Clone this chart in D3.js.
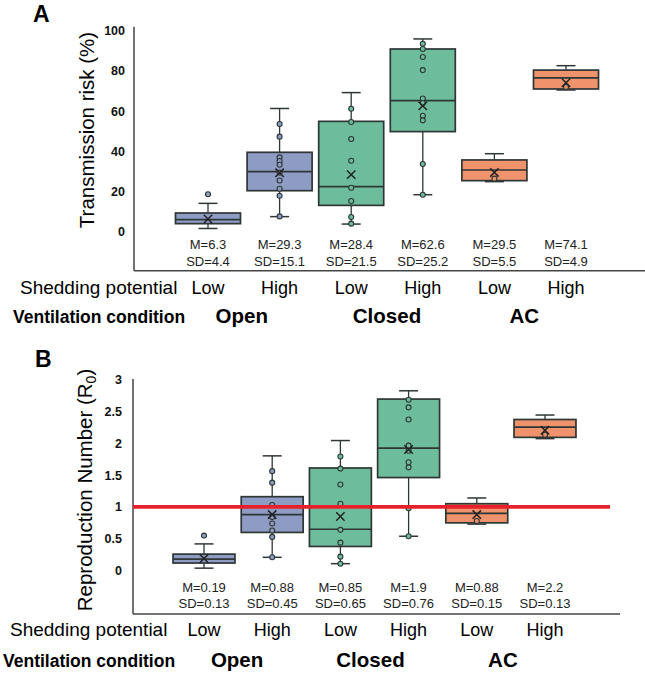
<!DOCTYPE html>
<meta charset="utf-8">
<body style="margin:0">
<script src="https://d3js.org/d3.v7.min.js"></script>
<script>

// Categories and labels.

var categories = ["Open Low", "Open High", "Closed Low", "Closed High", "AC Low", "AC High"];
var shedding = ["Low", "High", "Low", "High", "Low", "High"];
var ventilation = ["Open", "Closed", "AC"];
var groupOf = [0, 0, 1, 1, 2, 2];

// Panel A: transmission risk (%).

var riskTicks = [0, 20, 40, 60, 80, 100];
var riskWhiskerLow = [1.6, 7.5, 3.8, 18.4, 24.9, 70.5];
var riskQ1 = [4.0, 20.4, 13.1, 49.8, 25.4, 71.0];
var riskMedian = [6.0, 29.9, 22.4, 65.2, 30.7, 76.5];
var riskQ3 = [9.3, 39.5, 54.9, 90.9, 35.7, 80.4];
var riskWhiskerHigh = [14.1, 61.3, 69.2, 95.9, 38.8, 82.6];
var riskMean = [6.3, 29.3, 28.4, 62.6, 29.5, 74.1];
var riskSD = [4.4, 15.1, 21.5, 25.2, 5.5, 4.9];
var riskPoints = [
    [18.6],
    [53.6, 47.3, 37.0, 35.2, 33.3, 29.4, 25.5, 21.4, 17.9, 7.6],
    [61.2, 54.6, 46.1, 35.3, 21.9, 15.3, 7.3, 4.0],
    [93.5, 90.9, 86.9, 80.4, 66.3, 64.0, 57.7, 55.4, 33.7, 18.4],
    [26.4],
    [72.0]
];

// Panel B: reproduction number R0.

var r0Ticks = [0, 0.5, 1, 1.5, 2, 2.5, 3];
var r0WhiskerLow = [0.04, 0.21, 0.11, 0.54, 0.73, 2.07];
var r0Q1 = [0.12, 0.60, 0.38, 1.46, 0.75, 2.09];
var r0Median = [0.18, 0.88, 0.65, 1.92, 0.90, 2.25];
var r0Q3 = [0.26, 1.16, 1.61, 2.69, 1.05, 2.37];
var r0WhiskerHigh = [0.42, 1.80, 2.04, 2.82, 1.14, 2.44];
var r0Mean = [0.19, 0.88, 0.85, 1.9, 0.88, 2.2];
var r0SD = [0.13, 0.45, 0.65, 0.76, 0.15, 0.13];
var r0Points = [
    [0.55],
    [1.56, 1.38, 1.03, 0.84, 0.74, 0.63, 0.53, 0.21],
    [1.79, 1.60, 1.35, 1.05, 0.64, 0.44, 0.22, 0.11],
    [2.68, 2.56, 2.37, 1.96, 1.88, 1.70, 1.62, 0.98, 0.54],
    [0.78],
    [2.13]
];
var r0Threshold = 1;

var groupColor = ["#8e9bc3", "#6dbd9c", "#ef936c"];
var strokeColor = "#2e3636";

var width = 645,
    height = 674;

var svg = d3.select("body").append("svg")
    .attr("width", width)
    .attr("height", height)
    .style("background", "#fff")
    .style("font-family", "'Liberation Sans', Arial, sans-serif");

function drawPanel(p) {
    var g = svg.append("g");

    var y = d3.scaleLinear().domain(p.domain).range(p.yRange);
    var x = d3.scaleBand().domain(categories).range(p.xRange)
        .paddingInner(0.092).paddingOuter(0.046);
    var bw = x.bandwidth();
    var cx = function(i) { return x(categories[i]) + bw / 2; };

    // Panel letter
    g.append("text")
        .attr("x", p.letterX).attr("y", p.letterY)
        .attr("font-size", "23px").attr("font-weight", "bold")
        .text(p.letter);

    // Y axis labels (no tick marks, no domain path)
    var axis = g.append("g")
        .attr("transform", "translate(" + p.axisX + ",0)")
        .call(d3.axisLeft(y).tickValues(p.ticks).tickSize(0).tickPadding(p.tickPad)
            .tickFormat(d3.format("")));
    axis.select(".domain").remove();
    axis.selectAll("text")
        .attr("font-size", "12.5px").attr("font-weight", "bold")
        .attr("font-family", "'Liberation Sans', Arial, sans-serif")
        .attr("fill", "#111");

    // Frame: left axis and bottom line
    g.append("line")
        .attr("x1", p.axisX).attr("x2", p.axisX)
        .attr("y1", p.axisTop).attr("y2", p.axisBottom)
        .attr("stroke", "#444").attr("stroke-width", 1.5);
    g.append("line")
        .attr("x1", p.axisX).attr("x2", p.axisRight)
        .attr("y1", p.axisBottom).attr("y2", p.axisBottom)
        .attr("stroke", "#444").attr("stroke-width", 1.5);

    // Y title
    var title = g.append("text")
        .attr("transform", "translate(" + p.titleX + "," + p.titleY + ") rotate(-90)")
        .attr("text-anchor", "middle")
        .attr("font-size", "20.5px")
        .text(p.title);
    if (p.titleSub) {
        title.append("tspan").attr("font-size", "14px").attr("dy", 4).text(p.titleSub);
        title.append("tspan").attr("dy", -4).text(")");
    }

    var boxes = g.selectAll(".box").data(categories).enter().append("g");

    // Whiskers and caps
    boxes.append("line")
        .attr("x1", function(d, i) { return cx(i); })
        .attr("x2", function(d, i) { return cx(i); })
        .attr("y1", function(d, i) { return y(p.wLo[i]); })
        .attr("y2", function(d, i) { return y(p.wHi[i]); })
        .attr("stroke", strokeColor).attr("stroke-width", 1.3);
    [p.wLo, p.wHi].forEach(function(arr) {
        boxes.append("line")
            .attr("x1", function(d, i) { return cx(i) - 9.5; })
            .attr("x2", function(d, i) { return cx(i) + 9.5; })
            .attr("y1", function(d, i) { return y(arr[i]); })
            .attr("y2", function(d, i) { return y(arr[i]); })
            .attr("stroke", strokeColor).attr("stroke-width", 1.5);
    });

    // Boxes
    boxes.append("rect")
        .attr("x", function(d) { return x(d); })
        .attr("width", bw)
        .attr("y", function(d, i) { return y(p.q3[i]); })
        .attr("height", function(d, i) { return y(p.q1[i]) - y(p.q3[i]); })
        .attr("fill", function(d, i) { return groupColor[groupOf[i]]; })
        .attr("stroke", strokeColor).attr("stroke-width", 1.7);

    // Median
    boxes.append("line")
        .attr("x1", function(d) { return x(d); })
        .attr("x2", function(d) { return x(d) + bw; })
        .attr("y1", function(d, i) { return y(p.median[i]); })
        .attr("y2", function(d, i) { return y(p.median[i]); })
        .attr("stroke", strokeColor).attr("stroke-width", 1.7);

    // Individual points
    boxes.each(function(d, i) {
        d3.select(this).selectAll("circle").data(p.points[i]).enter().append("circle")
            .attr("cx", cx(i))
            .attr("cy", function(v) { return y(v); })
            .attr("r", 2.5)
            .attr("fill", groupColor[groupOf[i]])
            .attr("stroke", strokeColor).attr("stroke-width", 1.1);
    });

    // Mean marker (x)
    var m = 4.2;
    boxes.append("path")
        .attr("d", function(d, i) {
            var px = cx(i), py = y(p.mean[i]);
            return "M" + (px - m) + "," + (py - m) + "L" + (px + m) + "," + (py + m) +
                "M" + (px - m) + "," + (py + m) + "L" + (px + m) + "," + (py - m);
        })
        .attr("stroke", "#222").attr("stroke-width", 1.5).attr("fill", "none");

    // Threshold line
    if (p.threshold !== undefined) {
        g.append("line")
            .attr("x1", p.axisX).attr("x2", p.thresholdRight)
            .attr("y1", y(p.threshold)).attr("y2", y(p.threshold))
            .attr("stroke", "#e8202a").attr("stroke-width", 3.6);
    }

    // Mean / SD text
    boxes.append("text")
        .attr("x", function(d, i) { return cx(i); })
        .attr("y", p.statY)
        .attr("text-anchor", "middle").attr("font-size", "13px").attr("fill", "#222")
        .text(function(d, i) { return "M=" + p.mean[i]; });
    boxes.append("text")
        .attr("x", function(d, i) { return cx(i); })
        .attr("y", p.statY + p.statGap)
        .attr("text-anchor", "middle").attr("font-size", "13px").attr("fill", "#222")
        .text(function(d, i) { return "SD=" + p.sd[i]; });

    // Shedding potential row
    g.append("text")
        .attr("x", p.shedLabelX).attr("y", p.shedY)
        .attr("font-size", "19px")
        .text("Shedding potential");
    boxes.append("text")
        .attr("x", function(d, i) { return cx(i); })
        .attr("y", p.shedY)
        .attr("text-anchor", "middle").attr("font-size", "18px")
        .text(function(d, i) { return shedding[i]; });

    // Ventilation condition row
    g.append("text")
        .attr("x", p.ventLabelX).attr("y", p.ventY - 0.5)
        .attr("font-size", "17.5px").attr("font-weight", "bold")
        .text("Ventilation condition");
    g.selectAll(".vent").data(ventilation).enter().append("text")
        .attr("x", function(d, k) { return (cx(2 * k) + cx(2 * k + 1)) / 2 - p.ventShift[k]; })
        .attr("y", p.ventY)
        .attr("text-anchor", "middle").attr("font-size", "20.5px").attr("font-weight", "bold")
        .text(function(d) { return d; });
}

drawPanel({
    letter: "A", letterX: 33, letterY: 22,
    title: "Transmission risk (%)", titleX: 94, titleY: 130,
    domain: [0, 100], ticks: riskTicks, yRange: [231.7, 30.7], tickPad: 9,
    xRange: [172.2, 601.8],
    axisX: 134, axisTop: 26.7, axisBottom: 270.7, axisRight: 645,
    wLo: riskWhiskerLow, q1: riskQ1, median: riskMedian, q3: riskQ3, wHi: riskWhiskerHigh,
    mean: riskMean, sd: riskSD, points: riskPoints,
    statY: 248.5, statGap: 17.5,
    shedLabelX: 20, shedY: 294, ventLabelX: 13, ventY: 323, ventShift: [2, 0, 6]
});

drawPanel({
    letter: "B", letterX: 35, letterY: 367,
    title: "Reproduction Number (R", titleSub: "0", titleX: 92, titleY: 490,
    domain: [0, 3], ticks: r0Ticks, yRange: [570.7, 379.3], tickPad: 11,
    xRange: [169.9, 579.1],
    axisX: 133, axisTop: 379, axisBottom: 614, axisRight: 620,
    wLo: r0WhiskerLow, q1: r0Q1, median: r0Median, q3: r0Q3, wHi: r0WhiskerHigh,
    mean: r0Mean, sd: r0SD, points: r0Points,
    threshold: r0Threshold, thresholdRight: 610,
    statY: 591.5, statGap: 16.5,
    shedLabelX: 10, shedY: 636, ventLabelX: 3, ventY: 667, ventShift: [1, 4, 8]
});

</script>
</html>
